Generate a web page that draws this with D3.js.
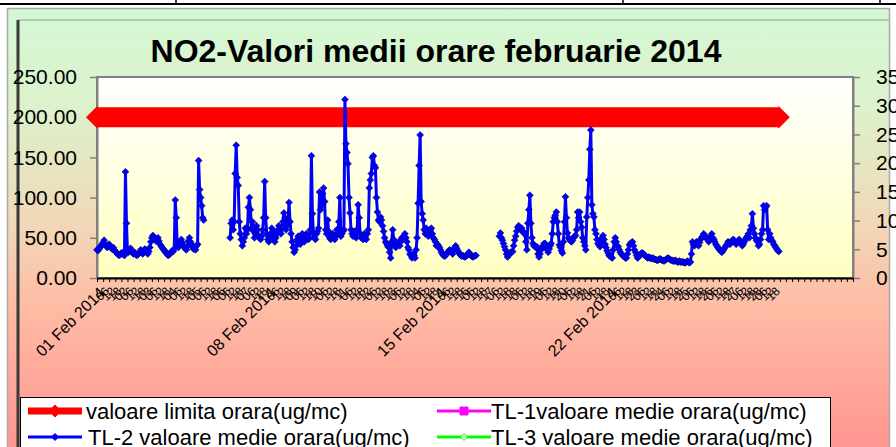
<!DOCTYPE html>
<html>
<head>
<meta charset="utf-8">
<script src="https://cdn.jsdelivr.net/npm/d3@7"></script>
<style>
  body { margin: 0; background: #fff; }
  text { font-family: Arial, "Liberation Sans", sans-serif; }
</style>
</head>
<body>
<div id="chart"></div>
<script>
// TL-2 hourly NO2 means (ug/mc), one row per day, null = missing hours
const tl2Week1 = [
  35,34,36,38,40,42,44,47,42,40,38,41,42,40,37,36,38,35,33,32,30,29,28,30,
  31,30,32,28,132,68,33,32,35,37,34,31,30,32,30,28,29,30,32,35,33,30,32,36,
  35,32,30,33,38,45,50,53,50,48,46,48,50,46,42,40,38,36,35,33,31,30,28,30,
  30,32,34,33,36,97,75,40,38,42,45,48,44,40,38,36,35,40,46,50,45,42,38,36,
  38,35,40,42,146,110,100,90,75,72,null,null,null,null,null,null,null,null,null,null,null,null,null,null,
  null,null,null,null,null,null,null,null,null,null,null,50,68,72,60,70,130,165,125,115,70,55,48,40,
  45,50,62,55,60,88,100,85,62,70,58,50,55,65,60,52,50,48,52,60,75,120,75,55
];
const tl2Week2 = [
  48,45,50,55,62,58,48,45,50,55,60,65,58,55,62,70,81,75,60,65,72,94,70,55,
  45,38,32,35,40,48,52,45,42,50,55,48,45,50,55,52,48,50,60,152,80,55,50,48,
  55,58,62,107,85,90,105,112,95,60,55,72,58,50,48,52,55,50,48,52,60,55,70,100,
  52,55,58,60,222,167,156,142,100,81,60,55,52,58,55,50,60,91,75,55,50,52,48,55,
  50,48,55,60,112,122,130,150,152,140,137,100,82,72,70,76,72,65,58,50,45,43,40,38,
  32,25,45,60,48,42,38,40,42,45,40,45,50,48,52,55,50,45,38,35,30,28,25,30,
  28,25,35,50,93,140,178,95,80,72,60,55,62,58,52,55,60,62,55,50,48,45,40,42
];
const tl2Week3 = [
  40,38,35,32,30,28,27,28,30,32,33,35,34,32,30,35,38,40,37,34,32,30,28,27,
  28,27,26,27,28,30,32,30,28,27,26,27,28,28,null,null,null,null,null,null,null,null,null,null,
  null,null,null,null,null,null,null,null,null,null,null,null,52,56,50,47,43,39,35,30,26,28,30,32,
  32,33,40,47,52,58,63,65,62,60,62,58,56,55,45,35,68,85,103,68,50,43,40,39,
  38,39,30,26,30,35,37,40,43,43,38,35,32,36,40,43,55,70,75,78,82,70,55,41,
  38,34,31,45,70,101,75,56,50,48,46,45,47,50,52,53,60,82,75,82,70,63,50,45,
  40,35,76,100,122,160,184,91,80,76,60,55,48,43,41,39,45,50,53,48,42,38,34,31
];
const tl2Week4 = [
  28,27,26,25,35,45,50,45,40,39,35,32,30,29,27,26,25,25,30,35,41,43,44,45,
  40,35,32,28,25,26,28,30,31,31,30,28,27,26,25,26,25,25,24,25,24,23,23,22,
  22,23,24,23,22,22,21,22,23,24,25,24,23,22,22,21,21,22,21,20,20,21,20,20,
  20,20,19,19,20,21,20,19,20,30,45,42,40,43,45,42,40,44,48,50,52,55,53,50,
  50,48,45,48,52,55,50,48,45,42,40,38,36,35,33,32,34,36,38,40,42,45,44,42,
  45,46,48,47,45,42,44,46,48,45,43,40,42,45,48,50,52,55,50,60,65,80,62,55,
  50,47,45,40,42,48,55,60,90,85,88,90,60,48,55,50,47,45,42,40,38,36,34,33
];

const limitValue = 200; // valoare limita orara
const leftTicks = [0, 50, 100, 150, 200, 250];
const rightTicks = [0, 5, 10, 15, 20, 25, 30, 35];
const dateLabels = ["01 Feb 2014", "08 Feb 2014", "15 Feb 2014", "22 Feb 2014"];
const hourLabels = ["", "06", "12", "18"];
const seriesNames = [
  "valoare limita orara(ug/mc)",
  "TL-1valoare medie orara(ug/mc)",
  "TL-2 valoare medie orara(ug/mc)",
  "TL-3 valoare medie orara(ug/mc)"
];
const seriesColors = ["#ff0000", "#ff00ff", "#0000ff", "#00ff00"];

function drawChart(containerId) {
  const width = 896;
  const height = 447;
  const plot = { left: 97, right: 853, top: 77, bottom: 278 };

  const tl2 = tl2Week1.concat(tl2Week2, tl2Week3, tl2Week4);
  const hours = d3.range(tl2.length);

  const svg = d3.select(containerId)
    .append("svg")
    .attr("width", width)
    .attr("height", height);

  // gradients
  const defs = svg.append("defs");
  const bg = defs.append("linearGradient").attr("id", "bgGrad")
    .attr("x1", 0).attr("y1", 0).attr("x2", 0).attr("y2", 1);
  bg.append("stop").attr("offset", "0%").attr("stop-color", "#d4f8d4");
  bg.append("stop").attr("offset", "22%").attr("stop-color", "#dcf2cc");
  bg.append("stop").attr("offset", "50%").attr("stop-color", "#f2d6b6");
  bg.append("stop").attr("offset", "68%").attr("stop-color", "#ffbaa4");
  bg.append("stop").attr("offset", "100%").attr("stop-color", "#ff9490");

  const pg = defs.append("linearGradient").attr("id", "plotGrad")
    .attr("x1", 0).attr("y1", 0).attr("x2", 0).attr("y2", 1);
  pg.append("stop").attr("offset", "0%").attr("stop-color", "#ffffff");
  pg.append("stop").attr("offset", "100%").attr("stop-color", "#ffffc0");

  // table lines above the chart
  svg.append("line").attr("x1", 0).attr("x2", width).attr("y1", 4).attr("y2", 4)
    .attr("stroke", "#000").attr("stroke-width", 2);
  [176, 623, 880].forEach(x => {
    svg.append("line").attr("x1", x).attr("x2", x).attr("y1", 0).attr("y2", 4)
      .attr("stroke", "#000").attr("stroke-width", 1.5);
  });

  // 1. chart frame
  svg.append("rect")
    .attr("x", 7.5).attr("y", 8.5).attr("width", 882).attr("height", 445)
    .attr("fill", "url(#bgGrad)")
    .attr("stroke", "#a8a8a8").attr("stroke-width", 1.5);
  svg.append("line").attr("x1", 18).attr("x2", 889).attr("y1", 20).attr("y2", 20)
    .attr("stroke", "#b8c8b8").attr("stroke-width", 2);
  svg.append("line").attr("x1", 18).attr("x2", 18).attr("y1", 20).attr("y2", height)
    .attr("stroke", "#3a3a3a").attr("stroke-width", 3);

  // 2. plot area
  svg.append("rect")
    .attr("x", plot.left).attr("y", plot.top)
    .attr("width", plot.right - plot.left).attr("height", plot.bottom - plot.top)
    .attr("fill", "url(#plotGrad)")
    .attr("stroke", "#808080").attr("stroke-width", 2);

  // title
  svg.append("text")
    .attr("x", 436).attr("y", 62)
    .attr("text-anchor", "middle")
    .style("font-size", "32px").style("font-weight", "bold").style("fill", "#000")
    .text("NO2-Valori medii orare februarie 2014");

  // 3. scales
  const x = d3.scaleLinear().domain([0, 744]).range([plot.left, plot.right]);
  const yLeft = d3.scaleLinear().domain([0, 250]).range([plot.bottom, plot.top]);
  const yRight = d3.scaleLinear().domain([0, 35]).range([plot.bottom, plot.top]);

  // left axis
  const gl = svg.append("g")
    .attr("transform", `translate(${plot.left},0)`)
    .call(d3.axisLeft(yLeft).tickValues(leftTicks).tickFormat(d3.format(".2f"))
      .tickSize(7).tickSizeOuter(0).tickPadding(13));
  gl.select(".domain").attr("stroke", "#808080").attr("stroke-width", 2);
  gl.selectAll(".tick line").attr("stroke", "#808080").attr("stroke-width", 1.5);
  gl.selectAll("text").style("font-size", "21px").style("fill", "#000")
    .style("font-family", "Arial, 'Liberation Sans', sans-serif");

  // right axis (labels run off the page edge, as in the original)
  const gr = svg.append("g")
    .attr("transform", `translate(${plot.right},0)`)
    .call(d3.axisRight(yRight).tickValues(rightTicks)
      .tickSize(7).tickSizeOuter(0).tickPadding(16));
  gr.select(".domain").attr("stroke", "#808080").attr("stroke-width", 2);
  gr.selectAll(".tick line").attr("stroke", "#808080").attr("stroke-width", 1.5);
  gr.selectAll("text").style("font-size", "21px").style("fill", "#000")
    .style("font-family", "Arial, 'Liberation Sans', sans-serif");

  // bottom axis (hourly category ticks)
  const gx = svg.append("g")
    .attr("transform", `translate(0,${plot.bottom})`)
    .call(d3.axisBottom(x).tickValues(d3.range(0, 745, 6)).tickFormat("")
      .tickSize(4).tickSizeOuter(0));
  gx.select(".domain").attr("stroke", "#000").attr("stroke-width", 2);
  gx.selectAll(".tick line").attr("stroke", "#000").attr("stroke-width", 1);

  // small hour labels
  const smallTicks = d3.range(6, 672, 6).filter(h => h % 168 !== 0);
  svg.append("g").selectAll("text")
    .data(smallTicks)
    .enter()
    .append("text")
    .attr("transform", d => `translate(${x(d) + 4},${plot.bottom + 11}) rotate(-45)`)
    .attr("text-anchor", "end")
    .attr("dy", "0.35em")
    .style("font-size", "12px").style("fill", "#000")
    .text(d => d % 24 === 0 ? String(d / 24 + 1).padStart(2, "0") : hourLabels[(d % 24) / 6]);

  // week date labels
  svg.append("g").selectAll("text")
    .data(dateLabels)
    .enter()
    .append("text")
    .attr("transform", (d, i) => `translate(${x(i * 168) + 5},${plot.bottom + 12}) rotate(-45)`)
    .attr("text-anchor", "end")
    .attr("dy", "0.35em")
    .style("font-size", "16px").style("fill", "#000")
    .text(d => d);

  const diamond = r => `M0,${-r}L${r},0L0,${r}L${-r},0Z`;

  // 4. limit series (thick red band)
  const limitLine = d3.line().x(d => x(d)).y(() => yLeft(limitValue));
  svg.append("path")
    .attr("d", limitLine(hours))
    .attr("fill", "none")
    .attr("stroke", seriesColors[0])
    .attr("stroke-width", 20);
  svg.append("g").selectAll("path")
    .data([hours[0], hours[hours.length - 1]])
    .enter()
    .append("path")
    .attr("transform", d => `translate(${x(d)},${yLeft(limitValue)})`)
    .attr("d", diamond(11))
    .attr("fill", seriesColors[0]);

  // TL-2 series
  const tl2Line = d3.line()
    .defined(d => d[1] != null)
    .x(d => x(d[0]))
    .y(d => yLeft(d[1]));
  const tl2Pts = hours.map(h => [h, tl2[h]]);
  svg.append("path")
    .attr("d", tl2Line(tl2Pts))
    .attr("fill", "none")
    .attr("stroke", seriesColors[2])
    .attr("stroke-width", 3)
    .attr("stroke-linejoin", "round");
  svg.append("g").selectAll("path")
    .data(tl2Pts.filter(d => d[1] != null))
    .enter()
    .append("path")
    .attr("transform", d => `translate(${x(d[0])},${yLeft(d[1])})`)
    .attr("d", diamond(3.5))
    .attr("fill", seriesColors[2])
    .attr("stroke", "#00008b")
    .attr("stroke-width", 0.5);

  // 5. legend
  svg.append("rect")
    .attr("x", 20.5).attr("y", 397.5).attr("width", 810).attr("height", 60)
    .attr("fill", "#fff").attr("stroke", "#000").attr("stroke-width", 1);

  const legend = svg.append("g").selectAll("g")
    .data(seriesNames)
    .enter()
    .append("g")
    .attr("transform", (d, i) => `translate(${i % 2 === 0 ? 28 : 437},${i < 2 ? 411 : 437})`);

  legend.append("line")
    .attr("x1", 0).attr("x2", 54)
    .attr("stroke", (d, i) => seriesColors[i])
    .attr("stroke-width", (d, i) => i === 0 ? 7 : 3);

  legend.append("path")
    .attr("transform", "translate(27,0)")
    .attr("d", (d, i) => i === 1 ? "M-4,-4H4V4H-4Z" : diamond(i === 0 ? 6 : 3.5))
    .attr("fill", (d, i) => i === 3 ? "#ffffff" : seriesColors[i])
    .attr("stroke", (d, i) => seriesColors[i])
    .attr("stroke-width", 1);

  legend.append("text")
    .attr("x", (d, i) => i === 2 ? 60 : (i % 2 === 0 ? 58 : 54))
    .attr("dy", "0.35em")
    .style("font-size", "22px").style("fill", "#000")
    .text(d => d);
}

drawChart("#chart");
</script>
</body>
</html>
